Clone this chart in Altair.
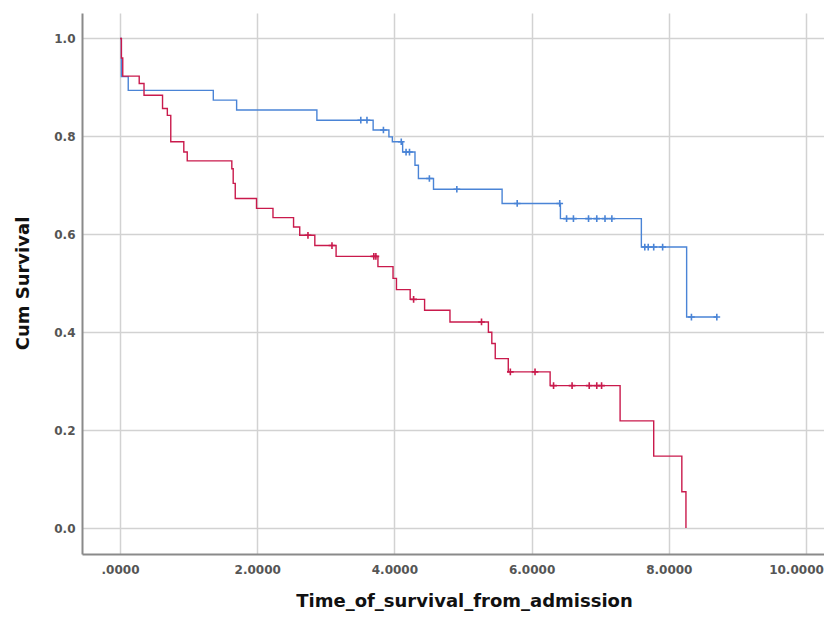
import altair as alt
import pandas as pd

# Kaplan-Meier step points (time, cumulative survival after event)
blue_t = [0.0, 0.02, 0.12, 1.36, 1.70, 2.87, 3.69, 3.92, 3.97, 4.12, 4.30, 4.35,
          4.57, 5.57, 6.42, 7.60, 8.26, 8.70]
blue_s = [1.0, 0.922, 0.894, 0.874, 0.854, 0.833, 0.813, 0.799, 0.789, 0.768, 0.741, 0.714,
          0.692, 0.663, 0.632, 0.574, 0.431, 0.431]
blue_ct = [3.51, 3.60, 3.84, 4.10, 4.17, 4.22, 4.51, 4.91, 5.79, 6.41, 6.51, 6.61, 6.83,
           6.95, 7.07, 7.17, 7.65, 7.70, 7.78, 7.91, 8.33, 8.70]
blue_cs = [0.833, 0.833, 0.813, 0.789, 0.768, 0.768, 0.714, 0.692, 0.663, 0.663, 0.632,
           0.632, 0.632, 0.632, 0.632, 0.632, 0.574, 0.574, 0.574, 0.574, 0.431, 0.431]

red_t = [0.0, 0.02, 0.04, 0.28, 0.35, 0.62, 0.69, 0.74, 0.93, 0.98, 1.63, 1.65, 1.68,
         1.99, 2.23, 2.53, 2.62, 2.84, 3.15, 3.76, 3.98, 4.03, 4.23, 4.44, 4.81, 5.37,
         5.42, 5.47, 5.66, 6.27, 7.29, 7.78, 8.19, 8.25]
red_s = [1.0, 0.96, 0.923, 0.908, 0.884, 0.857, 0.843, 0.789, 0.768, 0.750, 0.734, 0.704,
         0.673, 0.653, 0.634, 0.615, 0.598, 0.577, 0.555, 0.534, 0.510, 0.487, 0.467, 0.445,
         0.421, 0.400, 0.377, 0.346, 0.319, 0.291, 0.219, 0.147, 0.074, 0.0]
red_ct = [2.74, 3.09, 3.70, 3.73, 4.28, 5.27, 5.69, 6.05, 6.32, 6.59, 6.84, 6.95, 7.02]
red_cs = [0.598, 0.577, 0.555, 0.555, 0.467, 0.421, 0.319, 0.319, 0.291, 0.291, 0.291,
          0.291, 0.291]

groups = ["A", "B"]
colors = ["#4a84d6", "#c91a4c"]

lines = pd.DataFrame({
    "t": blue_t + red_t,
    "s": blue_s + red_s,
    "g": ["A"] * len(blue_t) + ["B"] * len(red_t),
})
cens = pd.DataFrame({
    "t": blue_ct + red_ct,
    "s": blue_cs + red_cs,
    "g": ["A"] * len(blue_ct) + ["B"] * len(red_ct),
})

xscale = alt.Scale(domain=[-0.554, 10.379], nice=False, zero=False)
yscale = alt.Scale(domain=[-0.053, 1.052], nice=False, zero=False)
cscale = alt.Scale(domain=groups, range=colors)

xaxis = alt.Axis(
    title="Time_of_survival_from_admission",
    values=[0, 2, 4, 6, 8, 10],
    labelExpr="datum.value == 0 ? '.0000' : format(datum.value, '.4f')",
    labelOffset={"condition": {"test": "datum.value == 10", "value": -10}, "value": 0},
    ticks=False, labelPadding=10, titleX=382, titleY=47,
    titleBaseline="middle", titleAlign="center",
)
yaxis = alt.Axis(
    title="Cum Survival",
    values=[0, 0.2, 0.4, 0.6, 0.8, 1.0],
    format=".1f",
    ticks=False, labelPadding=7, titleX=-59, titleY=270,
    titleBaseline="middle", titleAlign="center", titleAngle=270,
)

base_line = alt.Chart(lines).mark_line(interpolate="step-after", strokeWidth=1.4).encode(
    x=alt.X("t:Q", scale=xscale, axis=xaxis),
    y=alt.Y("s:Q", scale=yscale, axis=yaxis),
    color=alt.Color("g:N", scale=cscale, legend=None),
    detail="g:N",
)

marks = alt.Chart(cens).mark_point(
    shape="M-1,0H1M0,-1V1", filled=False, size=45, strokeWidth=1.6, opacity=1
).encode(
    x=alt.X("t:Q", scale=xscale),
    y=alt.Y("s:Q", scale=yscale),
    color=alt.Color("g:N", scale=cscale, legend=None),
)

chart = (base_line + marks).properties(
    width=750, height=541,
    autosize=alt.AutoSizeParams(type="none"),
    padding={"left": 74, "top": 5, "right": -8, "bottom": 58},
).configure_view(stroke=None).configure_axis(
    grid=True, gridColor="#d2d2d2", gridWidth=1.5,
    domainColor="#8a8a8a", domainWidth=2,
    labelFont="DejaVu Sans", labelFontSize=12, labelFontWeight="bold", labelColor="#555555",
    titleFont="DejaVu Sans", titleFontSize=18, titleFontWeight="bold", titleColor="#111111",
)

chart.save("out.html", embed_options={"renderer": "svg", "actions": False})
